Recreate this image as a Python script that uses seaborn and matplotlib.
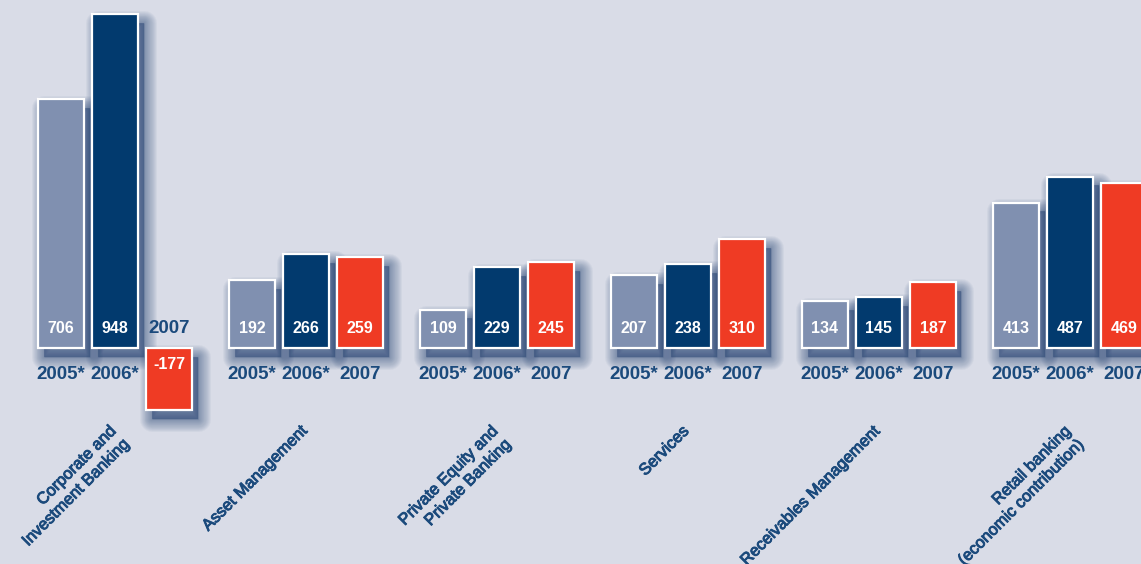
import matplotlib
matplotlib.use("Agg")
import matplotlib.pyplot as plt
import matplotlib.patheffects as pe
import matplotlib.transforms as mtransforms
from matplotlib.patches import Rectangle
import numpy as np
import pandas as pd
import seaborn as sns

# Operating result by segment, EUR million
categories = [
    "Corporate and\nInvestment Banking",
    "Asset Management",
    "Private Equity and\nPrivate Banking",
    "Services",
    "Receivables Management",
    "Retail banking\n(economic contribution)",
]
years = ["2005*", "2006*", "2007"]
values_2005 = [706, 192, 109, 207, 134, 413]
values_2006 = [948, 266, 229, 238, 145, 487]
values_2007 = [-177, 259, 245, 310, 187, 469]
year_colors = ["#8090b0", "#023a6e", "#ef3b24"]

BG = "#d9dce7"
TEXT_BLUE = "#1b4a7c"
SHADOW = "#1e3c70"

sns.set_style("white")
plt.rcParams["font.family"] = ["Liberation Sans", "DejaVu Sans"]

df = pd.DataFrame({
    "segment": np.repeat(categories, len(years)),
    "year": years * len(categories),
    "value": [v for trio in zip(values_2005, values_2006, values_2007) for v in trio],
})

fig = plt.figure(figsize=(11.41, 5.64), dpi=100, facecolor=BG)
ax = fig.add_axes([0, 0, 1, 1])
ax.set_facecolor(BG)

sns.barplot(
    data=df, x="segment", y="value", hue="year", order=categories,
    hue_order=years, palette=year_colors, width=0.848, gap=0.148,
    edgecolor="white", linewidth=1.6, saturation=1, legend=False,
    errorbar=None, ax=ax, zorder=3,
)

ax.set_xlim(-0.602, 5.372)
ax.set_ylim(-613.6, 988.6)
ax.axis("off")

# soft drop shadows built from each bar's own geometry
offset = mtransforms.ScaledTranslation(4.0 / 72, -6.3 / 72, fig.dpi_scale_trans)
bars = [p for p in ax.patches if isinstance(p, Rectangle)]
for bar in bars:
    x, y, w, h = bar.get_x(), bar.get_y(), bar.get_width(), bar.get_height()
    for lw in np.linspace(18, 0.1, 14):
        ax.add_patch(Rectangle(
            (x, y), w, h, facecolor=SHADOW, edgecolor=SHADOW, linewidth=lw,
            alpha=0.045, transform=ax.transData + offset, zorder=1,
            joinstyle="round",
        ))

# value labels inside bars and year labels under them
for i, seg in enumerate(categories):
    for j, yr in enumerate(years):
        v = df.loc[(df.segment == seg) & (df.year == yr), "value"].iloc[0]
        cx = i + (j - 1) * 0.848 / 3
        val_y, year_y = (55, -76) if v >= 0 else (-48, 55)
        ax.text(cx, val_y, f"{v}", color="white", fontsize=11.5,
                fontweight="bold", ha="center", va="center", zorder=5)
        ax.text(cx, year_y, yr, color=TEXT_BLUE, fontsize=13.5,
                fontweight="bold", ha="center", va="center", zorder=5)

# rotated segment names
for i, seg in enumerate(categories):
    ax.text(i - 0.035, -214, seg, rotation=45, rotation_mode="anchor",
            ha="right", va="top", multialignment="right",
            color=TEXT_BLUE, fontsize=11.8, linespacing=1.3, zorder=5,
            path_effects=[pe.withStroke(linewidth=0.7, foreground=TEXT_BLUE)])

fig.savefig("out.png", dpi=100, facecolor=BG)
